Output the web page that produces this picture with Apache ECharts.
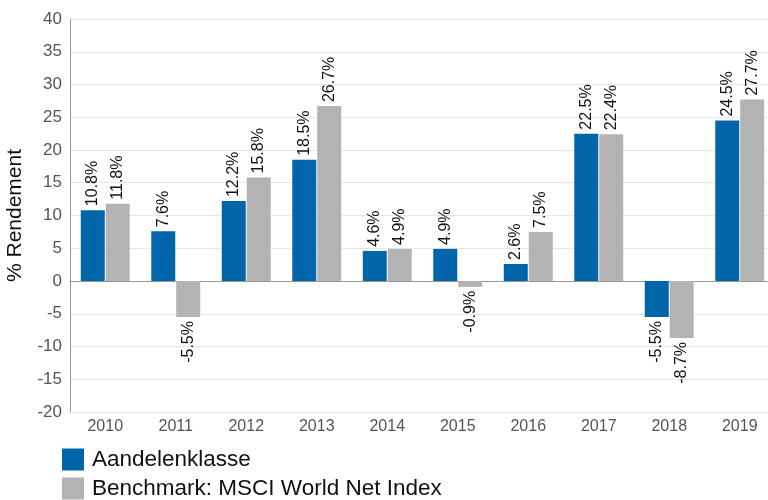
<!DOCTYPE html>
<html><head><meta charset="utf-8">
<script src="https://cdn.jsdelivr.net/npm/echarts@6/dist/echarts.min.js"></script>
<style>html,body{margin:0;padding:0;background:#fff}#c{width:768px;height:500px}</style>
</head><body><div id="c"></div>
<script>
const categories = ['2010','2011','2012','2013','2014','2015','2016','2017','2018','2019'];
const aandelen = [10.8, 7.6, 12.2, 18.5, 4.6, 4.9, 2.6, 22.5, -5.5, 24.5];
const benchmark = [11.8, -5.5, 15.8, 26.7, 4.9, -0.9, 7.5, 22.4, -8.7, 27.7];
const seriesNames = ['Aandelenklasse', 'Benchmark: MSCI World Net Index'];
const yMin = -20, yMax = 40, yStep = 5;

function withLabels(arr){
  return arr.map(v => ({
    value: v,
    label: v >= 0
      ? {position:'top', rotate:90, align:'left', verticalAlign:'middle', distance:4}
      : {position:'bottom', rotate:90, align:'right', verticalAlign:'middle', distance:4}
  }));
}
const font = 'Liberation Sans, Arial, sans-serif';
const chart = echarts.init(document.getElementById('c'), null, {renderer:'canvas'});
chart.setOption({
  animation:false,
  textStyle:{fontFamily:font},
  grid:{left:70, width:705, top:19, bottom:88, containLabel:false, outerBoundsMode:'none'},
  legend:{
    orient:'vertical', left:62, top:448, itemWidth:22, itemHeight:22, itemGap:6,
    padding:0, icon:'rect',
    textStyle:{fontSize:22.5, color:'#111', fontFamily:font, padding:[0,0,0,3]},
    data: seriesNames
  },
  xAxis:{
    type:'category', data:categories,
    axisLine:{lineStyle:{color:'#999', width:1}},
    axisTick:{show:false},
    axisLabel:{fontSize:16, color:'#555', margin:7, fontFamily:font}
  },
  yAxis:{
    type:'value', min:yMin, max:yMax, interval:yStep,
    name:'% Rendement', nameLocation:'middle', nameGap:44,
    nameTextStyle:{fontSize:21, color:'#111', fontFamily:font},
    axisLine:{show:true, lineStyle:{color:'#999', width:1}},
    axisTick:{show:false},
    splitLine:{lineStyle:{color:'#e6e6e6', width:1}},
    axisLabel:{fontSize:17, color:'#555', margin:8, fontFamily:font}
  },
  series:[
    {name:seriesNames[0], type:'bar', data:withLabels(aandelen), barWidth:24, barGap:'4%',
     itemStyle:{color:'#0066a9'},
     label:{show:true, formatter: p => p.value.toFixed(1)+'%', fontSize:16, color:'#111', fontFamily:font}},
    {name:seriesNames[1], type:'bar', data:withLabels(benchmark), barWidth:24,
     itemStyle:{color:'#b3b3b3'},
     label:{show:true, formatter: p => p.value.toFixed(1)+'%', fontSize:16, color:'#111', fontFamily:font}}
  ]
});
</script></body></html>
